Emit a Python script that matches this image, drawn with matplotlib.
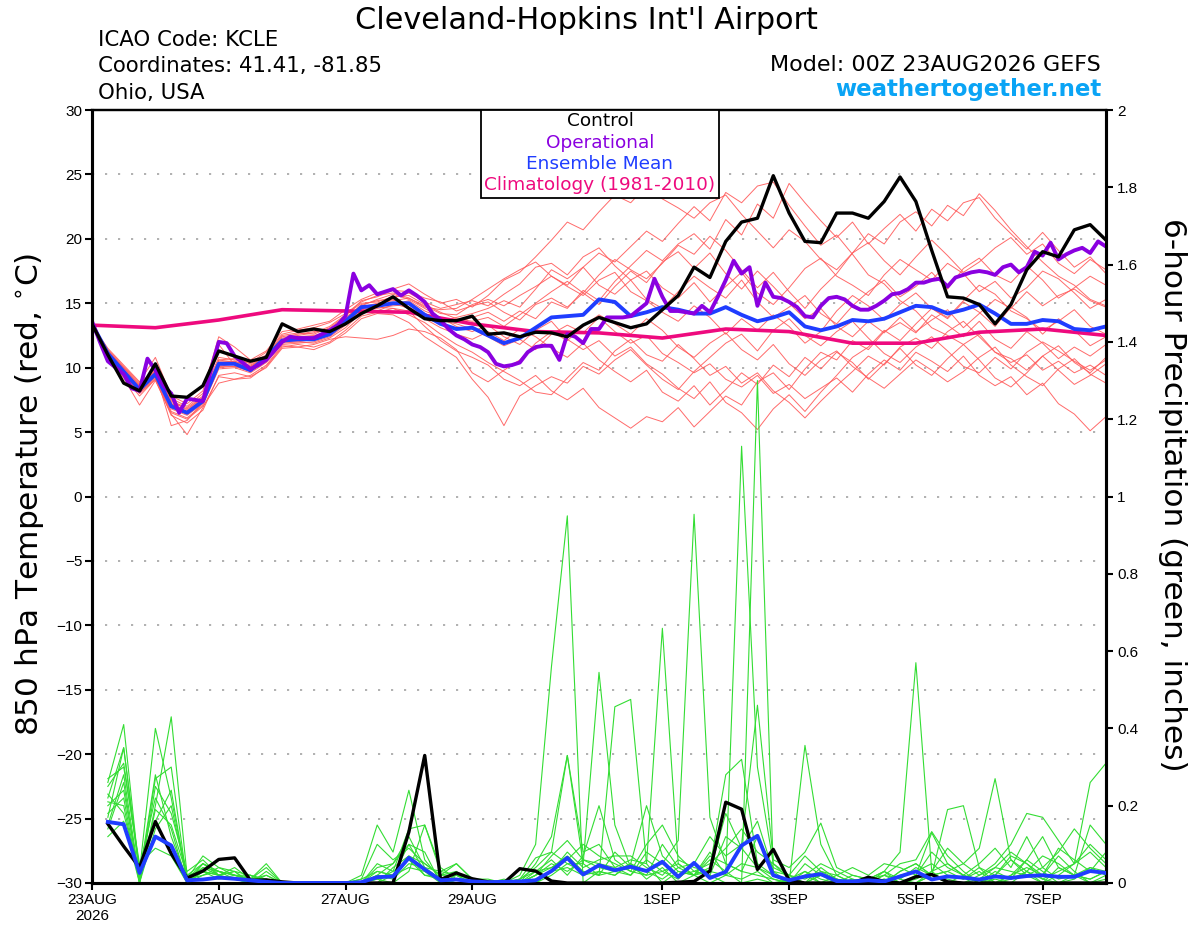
import numpy as np
import matplotlib
matplotlib.use('Agg')
import matplotlib.pyplot as plt
from matplotlib.patches import Rectangle

plt.rcParams['font.family'] = ['Liberation Sans', 'DejaVu Sans']

# 6-hourly steps, 00Z 23AUG2026 .. 00Z 8SEP2026
step_h = 6
xtick_hours = [0, 48, 96, 144, 216, 264, 312, 360]
xtick_labels = ['23AUG\n2026', '25AUG', '27AUG', '29AUG', '1SEP', '3SEP', '5SEP', '7SEP']

# ---- 850 hPa temperature (C) ----
control_t = [13.4, 11.0, 8.8, 8.2, 10.3, 7.8, 7.7, 8.6, 11.3, 10.9, 10.5, 10.8, 13.4,
             12.8, 13.0, 12.8, 13.4, 14.2, 14.8, 15.5, 14.6, 13.8, 13.65, 13.65, 14.0, 12.6,
             12.7, 12.4, 12.75, 12.7, 12.4, 13.3, 13.9, 13.5, 13.1, 13.4, 14.5, 15.6, 17.8,
             17.0, 19.8, 21.3, 21.6, 24.9, 22.0, 19.8, 19.7, 22.0, 22.0, 21.6, 22.9, 24.8,
             22.9, 19.1, 15.5, 15.4, 14.9, 13.4, 14.9, 17.6, 19.0, 18.6, 20.7, 21.1, 19.9]

mean_t = [13.4, 11.1, 9.7, 8.3, 9.5, 7.0, 6.5, 7.4, 10.3, 10.3, 9.8, 10.8, 12.1,
          12.2, 12.2, 12.6, 13.6, 14.7, 14.8, 15.0, 15.0, 14.1, 13.4, 13.0, 13.1, 12.5,
          11.9, 12.3, 13.1, 13.9, 14.0, 14.1, 15.3, 15.1, 14.0, 14.3, 14.7, 14.5, 14.2,
          14.2, 14.7, 14.1, 13.6, 13.9, 14.3, 13.2, 12.9, 13.2, 13.7, 13.6, 13.8, 14.3,
          14.8, 14.7, 14.2, 14.5, 14.9, 14.2, 13.4, 13.4, 13.7, 13.6, 13.0, 12.9, 13.2]

# operational run is 3-hourly
oper_t = [13.6, 12.0, 10.5, 10.0, 9.5, 8.4, 8.2, 10.7, 9.8, 8.6, 8.0, 6.5, 7.6,
          7.5, 7.4, 9.8, 12.0, 11.9, 10.9, 10.4, 9.9, 10.2, 10.6, 11.3, 12.0, 12.4,
          12.3, 12.3, 12.3, 12.6, 12.9, 13.3, 14.0, 17.3, 16.0, 16.4, 15.7, 15.9, 16.1,
          15.6, 16.0, 15.6, 15.1, 14.2, 13.7, 13.0, 12.5, 12.2, 11.8, 11.6, 11.2, 10.3,
          10.1, 10.2, 10.4, 11.2, 11.6, 11.7, 11.7, 10.6, 12.6, 12.4, 11.9, 13.0, 13.0,
          13.9, 13.9, 13.9, 14.0, 14.5, 15.0, 16.9, 15.5, 14.4, 14.4, 14.3, 14.2, 14.8,
          14.3, 15.5, 16.8, 18.3, 17.3, 17.8, 14.8, 16.6, 15.5, 15.4, 15.1, 14.7, 14.0,
          13.9, 14.8, 15.4, 15.5, 15.3, 14.8, 14.5, 14.5, 14.8, 15.2, 15.7, 15.8, 16.1,
          16.6, 16.6, 16.8, 16.9, 16.3, 17.0, 17.2, 17.4, 17.5, 17.4, 17.2, 17.8, 18.0,
          17.4, 17.8, 19.0, 18.7, 19.7, 18.4, 18.8, 19.1, 19.3, 18.9, 19.8, 19.4]

# climatology, daily values
clim_t = [13.3, 13.1, 13.7, 14.5, 14.4, 14.3, 13.4, 12.8, 12.7, 12.3, 13.0, 12.8,
          11.9, 11.9, 12.75, 13.0, 12.5]

members_t = [
    [13.3, 11.4, 10.1, 8.8, 9.9, 7.6, 7.0, 8.0, 10.8, 10.6, 10.4, 11.2, 12.6,
     12.9, 13.1, 13.5, 14.2, 15.1, 15.6, 15.8, 15.4, 14.8, 14.2, 14.1, 14.9, 15.3,
     14.8, 15.6, 16.3, 17.1, 16.4, 17.8, 18.9, 18.2, 19.4, 20.6, 19.8, 21.2, 22.5,
     21.4, 23.6, 22.8, 24.1, 24.4, 22.6, 21.0, 19.5, 20.3, 18.8, 17.2, 16.5, 15.2,
     14.4, 13.1, 12.5, 11.8, 12.6, 11.2, 10.4, 11.0, 9.8, 10.5, 9.6, 10.2, 9.4],
    [13.3, 10.8, 9.2, 7.1, 9.0, 6.4, 4.8, 6.9, 9.3, 9.1, 9.2, 10.1, 11.6,
     11.8, 11.6, 12.0, 12.9, 14.0, 14.3, 14.6, 14.4, 13.2, 12.1, 11.3, 10.8, 10.2,
     9.1, 8.6, 9.4, 8.2, 7.5, 8.4, 6.9, 6.1, 5.3, 6.2, 5.8, 6.9, 5.4,
     6.6, 7.8, 7.1, 8.9, 9.6, 8.3, 9.9, 11.2, 10.6, 12.1, 11.4, 12.8, 13.5,
     12.7, 14.1, 13.3, 12.4, 13.6, 12.2, 11.5, 12.8, 11.9, 10.7, 11.6, 10.9, 11.8],
    [13.3, 11.2, 9.9, 8.5, 9.7, 7.3, 6.8, 7.7, 10.5, 10.5, 10.1, 10.9, 12.3,
     12.5, 12.7, 13.2, 14.1, 15.0, 15.1, 15.5, 15.6, 14.9, 14.3, 13.8, 13.6, 13.9,
     13.2, 14.1, 15.0, 15.9, 16.7, 15.8, 17.2, 18.4, 17.6, 16.9, 18.1, 19.5, 18.8,
     20.2, 19.1, 17.6, 16.2, 17.4, 15.9, 14.6, 16.1, 17.3, 18.9, 20.4, 19.6, 21.3,
     22.1, 21.0, 22.6, 21.8, 23.5, 22.2, 20.7, 19.4, 18.2, 17.1, 16.4, 15.3, 14.8],
    [13.3, 10.9, 9.4, 8.0, 9.2, 6.6, 6.1, 7.1, 9.9, 10.0, 9.6, 10.4, 11.8,
     11.9, 12.0, 12.4, 13.3, 14.4, 14.6, 14.8, 14.9, 14.2, 13.7, 13.4, 13.0, 12.4,
     11.7, 12.2, 11.4, 12.6, 13.3, 12.7, 13.9, 12.8, 11.9, 12.5, 11.1, 10.4, 9.6,
     10.3, 9.1, 8.5, 9.4, 8.0, 8.7, 7.6, 8.4, 9.2, 8.1, 9.5, 10.6, 9.8,
     11.2, 10.5, 9.7, 10.9, 9.4, 8.6, 9.3, 7.9, 8.8, 7.2, 6.4, 5.1, 6.2],
    [13.3, 11.3, 10.0, 8.6, 9.6, 7.2, 6.6, 7.6, 11.8, 10.2, 9.8, 10.7, 12.0,
     12.2, 12.4, 12.9, 13.8, 14.9, 15.2, 15.4, 15.8, 15.1, 14.6, 14.9, 15.2, 14.8,
     15.7, 16.5, 17.8, 18.1, 17.2, 18.6, 19.3, 17.9, 16.8, 17.5, 16.2, 15.4, 16.6,
     15.1, 16.3, 17.4, 15.8, 14.9, 16.2, 17.7, 18.5, 17.1, 16.4, 15.6, 17.2, 18.4,
     17.6, 16.8, 18.1, 17.3, 15.9, 16.7, 15.4, 16.2, 17.5, 16.9, 15.8, 14.6, 15.3],
    [13.3, 10.7, 9.3, 7.8, 9.1, 6.3, 5.7, 6.7, 9.4, 9.6, 9.3, 10.0, 11.5,
     11.6, 11.4, 11.9, 12.7, 13.8, 14.2, 14.1, 13.5, 12.4, 11.6, 10.8, 9.1, 7.7,
     5.5, 7.8, 8.6, 9.3, 8.8, 10.1, 9.5, 10.6, 11.4, 10.2, 9.1, 8.3, 9.7,
     10.8, 11.9, 12.6, 11.3, 12.9, 13.8, 12.5, 11.7, 12.8, 13.6, 12.3, 11.1, 10.4,
     11.6, 12.4, 11.3, 10.1, 9.6, 10.8, 9.9, 11.2, 12.0, 11.3, 10.5, 9.8, 10.6],
    [13.3, 11.5, 10.2, 8.9, 10.8, 7.8, 7.2, 8.2, 12.4, 11.6, 10.6, 11.3, 12.8,
     13.0, 13.3, 13.6, 14.5, 15.3, 15.8, 16.1, 16.5, 15.7, 15.0, 15.3, 14.7, 15.6,
     16.8, 17.4, 18.6, 19.9, 21.3, 20.7, 22.1, 23.4, 22.8, 24.1, 23.1, 22.4, 21.6,
     22.8, 23.4, 21.9, 20.6, 19.3, 20.7, 19.8, 18.4, 17.6, 18.9, 19.7, 18.3, 17.2,
     18.6, 19.9, 18.7, 17.4, 18.2, 19.3, 20.1, 18.8, 19.6, 18.1, 17.3, 18.4, 17.6],
    [13.3, 11.0, 9.6, 8.1, 9.3, 6.8, 6.3, 7.2, 10.0, 10.1, 9.7, 10.5, 11.9,
     12.0, 11.9, 12.3, 13.1, 14.3, 14.4, 14.9, 15.2, 14.4, 13.9, 13.2, 12.8, 13.3,
     12.4, 11.8, 12.9, 13.6, 12.2, 11.4, 12.1, 10.9, 11.6, 10.3, 9.5, 8.4, 7.6,
     8.9, 7.3, 6.5, 5.2, 6.8, 7.9, 6.6, 8.1, 9.4, 10.8, 11.6, 12.9, 12.1,
     13.4, 14.6, 13.8, 15.1, 14.3, 13.2, 14.7, 13.9, 12.6, 13.8, 12.9, 11.7, 12.4],
    [13.3, 11.1, 9.8, 8.4, 9.4, 7.1, 6.4, 7.5, 10.2, 10.4, 10.0, 10.8, 12.2,
     12.3, 12.3, 12.7, 13.5, 14.6, 14.9, 15.3, 14.7, 14.0, 13.6, 13.9, 14.2, 14.6,
     15.2, 14.7, 16.1, 17.6, 16.9, 17.8, 16.4, 15.7, 16.8, 15.3, 14.6, 15.9, 17.1,
     16.2, 15.4, 16.8, 15.1, 13.9, 14.7, 15.6, 14.2, 13.4, 14.8, 15.9, 16.8, 15.5,
     16.3, 17.4, 16.1, 17.7, 18.5, 17.2, 16.6, 17.9, 16.8, 15.4, 16.2, 17.1, 16.4],
    [13.3, 10.9, 9.5, 8.2, 9.6, 5.5, 5.9, 7.3, 10.1, 10.3, 9.9, 10.6, 12.0,
     12.1, 12.1, 12.5, 13.4, 14.5, 14.7, 14.6, 14.1, 13.5, 12.6, 11.8, 11.2, 10.4,
     9.7, 9.0, 8.1, 7.9, 9.2, 10.4, 9.8, 11.3, 12.2, 11.0, 10.5, 11.8, 10.7,
     9.4, 10.1, 8.8, 9.6, 8.2, 7.3, 6.1, 7.4, 8.6, 9.7, 10.9, 10.2, 11.6,
     12.3, 11.5, 12.8, 13.6, 12.4, 11.2, 10.7, 9.8, 10.9, 11.7, 10.4, 9.6, 10.8],
    [13.3, 11.2, 9.8, 8.4, 9.8, 7.4, 6.9, 7.8, 10.6, 10.4, 10.2, 10.9, 12.4,
     12.6, 12.8, 13.0, 13.9, 14.8, 15.3, 15.7, 15.3, 14.6, 13.9, 13.5, 13.9, 14.3,
     13.6, 14.4, 13.8, 15.1, 14.6, 16.0, 15.2, 16.7, 17.9, 19.1, 18.3, 19.6, 20.4,
     19.2, 21.5, 20.3, 22.7, 21.6, 24.3, 22.8, 21.4, 20.1, 21.3, 19.6, 20.8, 21.9,
     20.6, 22.3, 21.4, 22.8, 23.2, 21.6, 20.4, 19.2, 20.5, 19.1, 17.8, 18.6, 17.3],
    [13.3, 11.0, 9.5, 8.0, 9.1, 6.5, 6.0, 7.0, 8.8, 9.1, 9.4, 10.2, 11.7,
     11.6, 11.8, 12.2, 12.4, 12.3, 12.2, 12.5, 13.0, 12.8, 12.3, 11.4, 9.6, 8.9,
     9.8, 10.6, 11.9, 12.8, 12.1, 13.2, 14.1, 13.4, 12.6, 13.8, 12.9, 11.6, 10.8,
     11.9, 12.7, 11.4, 10.6, 11.8, 10.3, 9.4, 10.6, 11.3, 10.1, 9.2, 8.4, 9.5,
     10.6, 9.8, 8.9, 9.7, 10.8, 11.6, 10.2, 9.3, 8.6, 9.9, 10.7, 9.5, 8.8],
    [13.3, 11.3, 10.0, 8.7, 9.5, 7.5, 6.7, 7.7, 10.6, 10.7, 10.3, 11.0, 12.5,
     12.7, 12.6, 13.1, 14.0, 15.2, 15.5, 16.0, 15.9, 15.4, 15.1, 14.4, 14.8, 15.1,
     14.3, 13.7, 14.9, 15.4, 14.7, 15.8, 14.9, 16.3, 17.5, 16.6, 18.2, 19.0, 17.7,
     18.9, 17.3, 16.1, 17.5, 16.3, 15.0, 13.8, 14.6, 13.2, 12.4, 13.6, 12.7, 13.9,
     12.8, 13.7, 14.5, 13.1, 14.2, 15.3, 14.6, 15.9, 14.8, 15.6, 16.1, 15.2, 14.7],
    [13.3, 11.1, 9.6, 8.3, 9.3, 7.0, 6.4, 7.4, 10.1, 10.1, 9.8, 10.5, 12.0,
     12.0, 12.2, 12.6, 13.6, 14.6, 14.8, 15.0, 14.6, 13.8, 13.1, 12.6, 12.2, 12.8,
     12.1, 13.0, 12.4, 11.5, 10.8, 11.9, 10.6, 9.7, 8.9, 9.8, 8.1, 7.4, 8.6,
     7.1, 8.3, 9.6, 8.7, 10.2, 9.3, 10.8, 9.9, 11.2, 10.4, 9.1, 10.3, 11.5,
     10.2, 9.4, 10.7, 11.8, 10.6, 9.2, 8.5, 9.6, 10.9, 9.8, 8.7, 9.4, 10.3],
    [13.3, 11.2, 9.7, 8.6, 9.8, 7.2, 6.6, 7.6, 10.3, 10.5, 10.1, 10.8, 12.2,
     12.4, 12.5, 12.8, 13.7, 14.7, 15.0, 15.2, 15.4, 14.7, 14.5, 14.6, 15.3, 16.1,
     16.9, 17.6, 18.2, 17.1, 16.3, 15.6, 16.8, 17.4, 15.9, 15.2, 14.3, 13.6, 14.8,
     13.9, 12.6, 13.8, 12.9, 14.1, 13.2, 11.9, 12.8, 14.4, 15.6, 14.8, 13.7, 14.9,
     15.8, 14.6, 13.9, 15.2, 16.4, 15.7, 14.4, 13.8, 12.9, 13.6, 14.5, 13.2, 12.6],
]

# ---- 6-hour precipitation (inches), first value at +6h ----
control_p = [0.153, 0.095, 0.04, 0.159, 0.076, 0.013, 0.031, 0.061, 0.065, 0.007, 0.008, 0.003, 0.0, 0.0, 0.0, 0.0,
             0.0, 0.0, 0.0, 0.132, 0.33, 0.009, 0.026, 0.011, 0.003, 0.0, 0.037, 0.031, 0.005, 0.0, 0.0, 0.0,
             0.0, 0.0, 0.0, 0.0, 0.002, 0.004, 0.031, 0.209, 0.191, 0.035, 0.087, 0.007, 0.0, 0.0, 0.0, 0.0,
             0.015, 0.004, 0.0, 0.016, 0.022, 0.003, 0.0, 0.0, 0.0, 0.0, 0.0, 0.0, 0.0, 0.0, 0.0, 0.0]

mean_p = [0.158, 0.152, 0.026, 0.12, 0.097, 0.007, 0.009, 0.014, 0.011, 0.007, 0.003, 0.0, 0.0, 0.0, 0.0, 0.0,
          0.002, 0.015, 0.017, 0.065, 0.035, 0.007, 0.009, 0.004, 0.002, 0.003, 0.004, 0.007, 0.031, 0.065, 0.022, 0.046,
          0.033, 0.042, 0.031, 0.055, 0.016, 0.052, 0.013, 0.029, 0.097, 0.122, 0.02, 0.007, 0.017, 0.023, 0.005, 0.004,
          0.007, 0.004, 0.017, 0.03, 0.009, 0.017, 0.014, 0.009, 0.017, 0.013, 0.018, 0.02, 0.016, 0.016, 0.031, 0.026]

members_p = [
    [0.26, 0.41, 0.02, 0.12, 0.09, 0.0, 0.03, 0.02, 0.01, 0.0, 0.0, 0.0, 0.0, 0.0, 0.0, 0.0,
     0.0, 0.02, 0.05, 0.10, 0.03, 0.0, 0.01, 0.0, 0.0, 0.0, 0.02, 0.10, 0.56, 0.95, 0.0, 0.03,
     0.02, 0.05, 0.01, 0.04, 0.0, 0.02, 0.06, 0.03, 0.0, 0.01, 0.0, 0.0, 0.02, 0.0, 0.0, 0.01,
     0.0, 0.0, 0.03, 0.05, 0.02, 0.0, 0.0, 0.01, 0.0, 0.02, 0.06, 0.03, 0.0, 0.01, 0.04, 0.02],
    [0.18, 0.22, 0.0, 0.20, 0.43, 0.02, 0.05, 0.03, 0.02, 0.01, 0.04, 0.0, 0.0, 0.0, 0.0, 0.0,
     0.01, 0.03, 0.02, 0.07, 0.05, 0.02, 0.05, 0.01, 0.0, 0.0, 0.01, 0.04, 0.08, 0.05, 0.05, 0.545,
     0.15, 0.04, 0.02, 0.03, 0.01, 0.05, 0.02, 0.0, 0.0, 1.30, 0.03, 0.02, 0.0, 0.04, 0.01, 0.0,
     0.0, 0.02, 0.01, 0.0, 0.03, 0.05, 0.02, 0.0, 0.01, 0.0, 0.03, 0.01, 0.0, 0.02, 0.0, 0.01],
    [0.22, 0.35, 0.03, 0.40, 0.22, 0.01, 0.07, 0.04, 0.03, 0.02, 0.0, 0.0, 0.0, 0.0, 0.0, 0.0,
     0.02, 0.15, 0.08, 0.24, 0.06, 0.01, 0.0, 0.0, 0.0, 0.01, 0.0, 0.03, 0.04, 0.07, 0.03, 0.02,
     0.456, 0.475, 0.05, 0.0, 0.03, 0.02, 0.0, 0.02, 1.13, 0.30, 0.05, 0.01, 0.0, 0.02, 0.0, 0.0,
     0.01, 0.03, 0.0, 0.0, 0.02, 0.19, 0.20, 0.04, 0.0, 0.01, 0.03, 0.0, 0.02, 0.05, 0.10, 0.06],
    [0.15, 0.28, 0.01, 0.27, 0.30, 0.0, 0.04, 0.02, 0.04, 0.01, 0.05, 0.0, 0.0, 0.0, 0.0, 0.0,
     0.0, 0.05, 0.03, 0.14, 0.15, 0.03, 0.05, 0.01, 0.0, 0.0, 0.01, 0.065, 0.08, 0.33, 0.08, 0.10,
     0.04, 0.06, 0.05, 0.659, 0.05, 0.02, 0.08, 0.02, 0.01, 0.03, 0.0, 0.01, 0.03, 0.0, 0.02, 0.0,
     0.01, 0.03, 0.08, 0.57, 0.03, 0.0, 0.02, 0.01, 0.04, 0.08, 0.05, 0.02, 0.07, 0.03, 0.0, 0.02],
    [0.21, 0.20, 0.0, 0.19, 0.15, 0.02, 0.03, 0.02, 0.01, 0.0, 0.02, 0.0, 0.0, 0.0, 0.0, 0.0,
     0.0, 0.0, 0.04, 0.07, 0.02, 0.02, 0.03, 0.0, 0.0, 0.0, 0.0, 0.02, 0.05, 0.03, 0.06, 0.04,
     0.03, 0.02, 0.08, 0.05, 0.11, 0.954, 0.17, 0.05, 0.03, 0.02, 0.01, 0.0, 0.356, 0.10, 0.02, 0.0,
     0.0, 0.01, 0.0, 0.02, 0.13, 0.05, 0.02, 0.0, 0.03, 0.01, 0.06, 0.12, 0.04, 0.02, 0.01, 0.03],
    [0.17, 0.35, 0.02, 0.12, 0.10, 0.01, 0.05, 0.03, 0.02, 0.02, 0.01, 0.0, 0.0, 0.0, 0.0, 0.0,
     0.01, 0.10, 0.06, 0.09, 0.05, 0.02, 0.02, 0.01, 0.01, 0.0, 0.0, 0.05, 0.12, 0.33, 0.05, 0.02,
     0.03, 0.05, 0.20, 0.07, 0.03, 0.02, 0.04, 0.28, 0.32, 0.05, 0.02, 0.0, 0.05, 0.02, 0.01, 0.0,
     0.0, 0.01, 0.0, 0.0, 0.02, 0.03, 0.05, 0.09, 0.27, 0.06, 0.02, 0.0, 0.04, 0.02, 0.01, 0.03],
    [0.27, 0.30, 0.05, 0.09, 0.07, 0.0, 0.02, 0.03, 0.02, 0.01, 0.0, 0.0, 0.0, 0.0, 0.0, 0.0,
     0.0, 0.02, 0.01, 0.05, 0.04, 0.03, 0.02, 0.0, 0.0, 0.0, 0.0, 0.01, 0.03, 0.08, 0.04, 0.06,
     0.07, 0.07, 0.04, 0.02, 0.06, 0.04, 0.03, 0.02, 0.05, 0.04, 0.02, 0.0, 0.03, 0.01, 0.0, 0.02,
     0.01, 0.0, 0.03, 0.05, 0.02, 0.01, 0.0, 0.02, 0.05, 0.10, 0.18, 0.17, 0.11, 0.05, 0.26, 0.31],
    [0.12, 0.16, 0.0, 0.25, 0.18, 0.03, 0.06, 0.02, 0.03, 0.0, 0.03, 0.0, 0.0, 0.0, 0.0, 0.0,
     0.0, 0.01, 0.0, 0.03, 0.15, 0.04, 0.01, 0.0, 0.0, 0.0, 0.0, 0.02, 0.04, 0.06, 0.10, 0.07,
     0.05, 0.03, 0.02, 0.10, 0.04, 0.05, 0.12, 0.07, 0.10, 0.46, 0.06, 0.04, 0.08, 0.155, 0.04, 0.02,
     0.01, 0.02, 0.05, 0.06, 0.133, 0.07, 0.03, 0.0, 0.02, 0.06, 0.03, 0.07, 0.05, 0.02, 0.15, 0.10],
    [0.20, 0.24, 0.01, 0.16, 0.24, 0.0, 0.03, 0.01, 0.02, 0.01, 0.02, 0.0, 0.0, 0.0, 0.0, 0.0,
     0.0, 0.0, 0.02, 0.04, 0.03, 0.01, 0.0, 0.0, 0.0, 0.0, 0.0, 0.0, 0.02, 0.05, 0.03, 0.02,
     0.08, 0.04, 0.03, 0.05, 0.02, 0.03, 0.05, 0.09, 0.14, 0.08, 0.05, 0.02, 0.01, 0.03, 0.02, 0.04,
     0.02, 0.05, 0.04, 0.02, 0.08, 0.04, 0.02, 0.05, 0.09, 0.04, 0.12, 0.04, 0.08, 0.14, 0.09, 0.05],
    [0.23, 0.18, 0.02, 0.28, 0.12, 0.01, 0.04, 0.03, 0.01, 0.02, 0.0, 0.0, 0.0, 0.0, 0.0, 0.0,
     0.0, 0.03, 0.02, 0.10, 0.08, 0.0, 0.02, 0.0, 0.0, 0.0, 0.01, 0.03, 0.06, 0.02, 0.07, 0.20,
     0.06, 0.03, 0.10, 0.15, 0.07, 0.03, 0.02, 0.12, 0.09, 0.16, 0.03, 0.0, 0.02, 0.05, 0.03, 0.01,
     0.0, 0.03, 0.01, 0.04, 0.02, 0.03, 0.01, 0.04, 0.02, 0.07, 0.05, 0.01, 0.03, 0.05, 0.08, 0.04],
    [0.14, 0.26, 0.0, 0.14, 0.20, 0.01, 0.02, 0.04, 0.02, 0.01, 0.01, 0.0, 0.0, 0.0, 0.0, 0.0,
     0.0, 0.01, 0.03, 0.06, 0.02, 0.01, 0.0, 0.0, 0.0, 0.0, 0.0, 0.0, 0.03, 0.04, 0.02, 0.03,
     0.02, 0.05, 0.03, 0.01, 0.04, 0.02, 0.03, 0.18, 0.09, 0.04, 0.01, 0.0, 0.0, 0.02, 0.01, 0.0,
     0.0, 0.0, 0.02, 0.03, 0.05, 0.02, 0.01, 0.03, 0.0, 0.02, 0.04, 0.02, 0.09, 0.06, 0.03, 0.08],
    [0.25, 0.31, 0.04, 0.22, 0.14, 0.0, 0.05, 0.02, 0.03, 0.0, 0.0, 0.0, 0.0, 0.0, 0.0, 0.0,
     0.0, 0.04, 0.05, 0.12, 0.04, 0.01, 0.0, 0.0, 0.0, 0.0, 0.0, 0.02, 0.07, 0.11, 0.06, 0.05,
     0.04, 0.02, 0.06, 0.03, 0.05, 0.02, 0.07, 0.05, 0.03, 0.12, 0.04, 0.02, 0.07, 0.03, 0.01, 0.0,
     0.0, 0.02, 0.0, 0.01, 0.03, 0.09, 0.05, 0.02, 0.04, 0.03, 0.02, 0.04, 0.01, 0.02, 0.04, 0.03],
]

legend_items = ['Control', 'Operational', 'Ensemble Mean', 'Climatology (1981-2010)']

c_red = '#ff5a5a'
c_green = '#33dd33'
c_oper = '#8a00e0'
c_mean = '#1f3dff'
c_clim = '#ee0a7e'
legend_colors = ['black', c_oper, c_mean, c_clim]
head_font = 'DejaVu Sans'

fig = plt.figure(figsize=(12, 9.27), dpi=100)
W, H = 1200, 927
ax = fig.add_axes([92 / W, 1 - 883 / H, (1106 - 92) / W, (883 - 110) / H])
ax2 = ax.twinx()

# temperature on the left axis
for m in members_t:
    ax.plot(np.arange(len(m)) * step_h, m, color=c_red, lw=0.7, alpha=0.9, zorder=2)
ax.plot(np.arange(len(clim_t)) * 24, clim_t, color=c_clim, lw=2.6, zorder=4)
ax.plot(np.arange(len(mean_t)) * step_h, mean_t, color=c_mean, lw=2.8, zorder=5)
ax.plot(np.arange(len(oper_t)) * 3, oper_t, color=c_oper, lw=2.8, zorder=6)
ax.plot(np.arange(len(control_t)) * step_h, control_t, color='black', lw=2.4, zorder=7)

for yv in range(-25, 30, 5):
    ax.axhline(yv, color='#aaaaaa', lw=1.3, ls=(0, (1.2, 6)), zorder=1)

ax.set_xlim(0, 384)
ax.set_ylim(-30, 30)
ax.set_yticks(range(-30, 31, 5))
ax.set_xticks(xtick_hours)
ax.set_xticklabels(xtick_labels)
ax.tick_params(axis='both', direction='out', length=5, width=1.5, labelsize=11, pad=2)

# precipitation on the right axis
for m in members_p:
    ax2.plot((np.arange(len(m)) + 1) * step_h, m, color=c_green, lw=0.8, zorder=2)
ax2.plot((np.arange(len(control_p)) + 1) * step_h, control_p, color='black', lw=2.4, zorder=4)
ax2.plot((np.arange(len(mean_p)) + 1) * step_h, mean_p, color=c_mean, lw=2.8, zorder=5)
ax2.set_ylim(0, 2)
ax2.set_yticks(np.arange(0, 2.01, 0.2))
ax2.set_yticklabels(['%g' % round(v, 1) for v in np.arange(0, 2.01, 0.2)])
ax2.tick_params(axis='y', direction='out', length=5, width=1.5, labelsize=11, pad=3)

for a in (ax, ax2):
    for s in a.spines.values():
        s.set_linewidth(2.2)
    a.spines['top'].set_linewidth(1.6)

# legend box
bx0, by0, bx1, by1 = 481, 110, 719, 198
ax2.add_patch(Rectangle((bx0 / W, 1 - by1 / H), (bx1 - bx0) / W, (by1 - by0) / H,
                        transform=fig.transFigure, facecolor='white', edgecolor='black',
                        lw=1.3, zorder=10, clip_on=False))
for k, (txt, col) in enumerate(zip(legend_items, legend_colors)):
    fig.text((bx0 + bx1) / 2 / W, 1 - (121 + 21.5 * k) / H, txt, color=col, fontsize=13.3,
             family=head_font, ha='center', va='center', zorder=11)

# titles and labels
fig.text(586 / W, 1 - 29 / H, "Cleveland-Hopkins Int'l Airport", fontsize=21.8, family=head_font,
         ha='center', va='baseline')
fig.text(98 / W, 1 - 46 / H, 'ICAO Code: KCLE', fontsize=15.3, family=head_font, va='baseline')
fig.text(98 / W, 1 - 72 / H, 'Coordinates: 41.41, -81.85', fontsize=15.3, family=head_font, va='baseline')
fig.text(98 / W, 1 - 99 / H, 'Ohio, USA', fontsize=15.3, family=head_font, va='baseline')
fig.text(1101 / W, 1 - 71 / H, 'Model: 00Z 23AUG2026 GEFS', fontsize=16, family=head_font,
         ha='right', va='baseline')
fig.text(1101 / W, 1 - 96 / H, 'weathertogether.net', fontsize=16.5, fontweight='bold',
         family=head_font, color='#0aa4f5', ha='right', va='baseline')
fig.text(30 / W, 1 - 494 / H, '850 hPa Temperature (red, $^{\\circ}$C)', fontsize=22.5,
         family=head_font, rotation=90, ha='center', va='center')
fig.text(1172 / W, 1 - 495 / H, '6-hour Precipitation (green, inches)', fontsize=22.5,
         family=head_font, rotation=270, ha='center', va='center')

fig.savefig('out.png', dpi=100)
